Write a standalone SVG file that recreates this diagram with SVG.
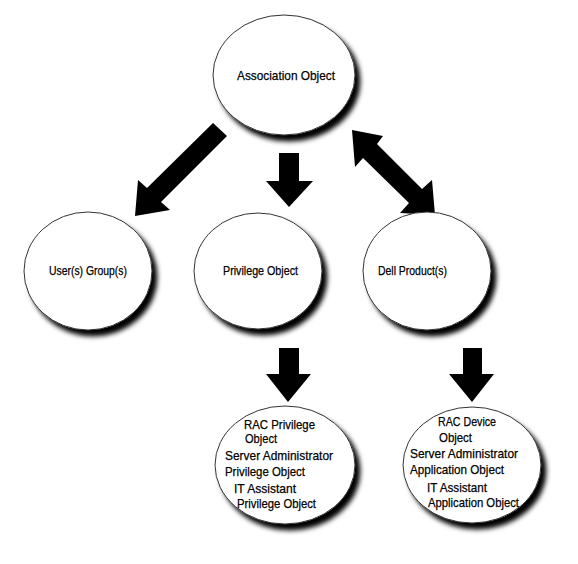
<svg xmlns="http://www.w3.org/2000/svg" width="578" height="564" viewBox="0 0 578 564">
<style>
.node ellipse{fill:#fff;stroke:#333;stroke-width:1;filter:url(#sh)}
.t{font-family:"Liberation Sans",Arial,sans-serif;fill:#000;stroke:#000;stroke-width:0.25}
.m{font-size:12.5px}
.b{font-size:13.5px}
.arrow{fill:#000}
</style>
<defs>
<filter id="sh" x="-20%" y="-20%" width="150%" height="150%">
<feGaussianBlur in="SourceAlpha" stdDeviation="2.6" result="b"/>
<feOffset in="b" dx="5" dy="6" result="o"/>
<feComponentTransfer in="o" result="s"><feFuncA type="linear" slope="1"/></feComponentTransfer>
<feMerge><feMergeNode in="s"/><feMergeNode in="SourceGraphic"/></feMerge>
</filter>
</defs>
<rect width="578" height="564" fill="#fff"/>
<g id="connectors">
<polygon class="arrow" points="135,216 138,180 147,188 213,123 227,136 161,202 170,210"/>
<polygon class="arrow" points="279,153 299,153 299,181 313,181 289,207 266,181 279,181"/>
<polygon class="arrow" points="352,130 383,136 377,144 422,189 432,180 435,215 400,213 409,203 363,158 355,167"/>
<polygon class="arrow" points="279,348 299,348 299,374 311,374 288,402 266,374 279,374"/>
<polygon class="arrow" points="463,348 482,348 482,374 494,374 472,402 449,374 463,374"/>
</g>
<g id="association">
<g class="node"><ellipse cx="284" cy="75" rx="71" ry="60"/></g>
<text class="t b" x="237" y="80" textLength="98" lengthAdjust="spacingAndGlyphs">Association Object</text>
</g>
<g id="users">
<g class="node"><ellipse cx="88" cy="271" rx="64" ry="59"/></g>
<text class="t m" x="49" y="275" textLength="78" lengthAdjust="spacingAndGlyphs">User(s) Group(s)</text>
</g>
<g id="privilege">
<g class="node"><ellipse cx="258" cy="271" rx="64" ry="58"/></g>
<text class="t m" x="223" y="275" textLength="75" lengthAdjust="spacingAndGlyphs">Privilege Object</text>
</g>
<g id="products">
<g class="node"><ellipse cx="427" cy="271" rx="64" ry="59"/></g>
<text class="t m" x="378" y="275" textLength="69" lengthAdjust="spacingAndGlyphs">Dell Product(s)</text>
</g>
<g id="privilege-objects">
<g class="node"><ellipse cx="285" cy="465" rx="70" ry="59"/></g>
<text class="t b" x="244" y="429" textLength="71" lengthAdjust="spacingAndGlyphs">RAC Privilege</text>
<text class="t b" x="245" y="443" textLength="32" lengthAdjust="spacingAndGlyphs">Object</text>
<text class="t b" x="225" y="460" textLength="108" lengthAdjust="spacingAndGlyphs">Server Administrator</text>
<text class="t b" x="225" y="476" textLength="80" lengthAdjust="spacingAndGlyphs">Privilege Object</text>
<text class="t b" x="234" y="493" textLength="62" lengthAdjust="spacingAndGlyphs">IT Assistant</text>
<text class="t b" x="237" y="508" textLength="79" lengthAdjust="spacingAndGlyphs">Privilege Object</text>
</g>
<g id="application-objects">
<g class="node"><ellipse cx="472" cy="465" rx="69" ry="58"/></g>
<text class="t b" x="438" y="426" textLength="58" lengthAdjust="spacingAndGlyphs">RAC Device</text>
<text class="t b" x="439" y="442" textLength="33" lengthAdjust="spacingAndGlyphs">Object</text>
<text class="t b" x="410" y="458" textLength="108" lengthAdjust="spacingAndGlyphs">Server Administrator</text>
<text class="t b" x="410" y="474" textLength="94" lengthAdjust="spacingAndGlyphs">Application Object</text>
<text class="t b" x="427" y="492" textLength="60" lengthAdjust="spacingAndGlyphs">IT Assistant</text>
<text class="t b" x="428" y="507" textLength="91" lengthAdjust="spacingAndGlyphs">Application Object</text>
</g>
</svg>
